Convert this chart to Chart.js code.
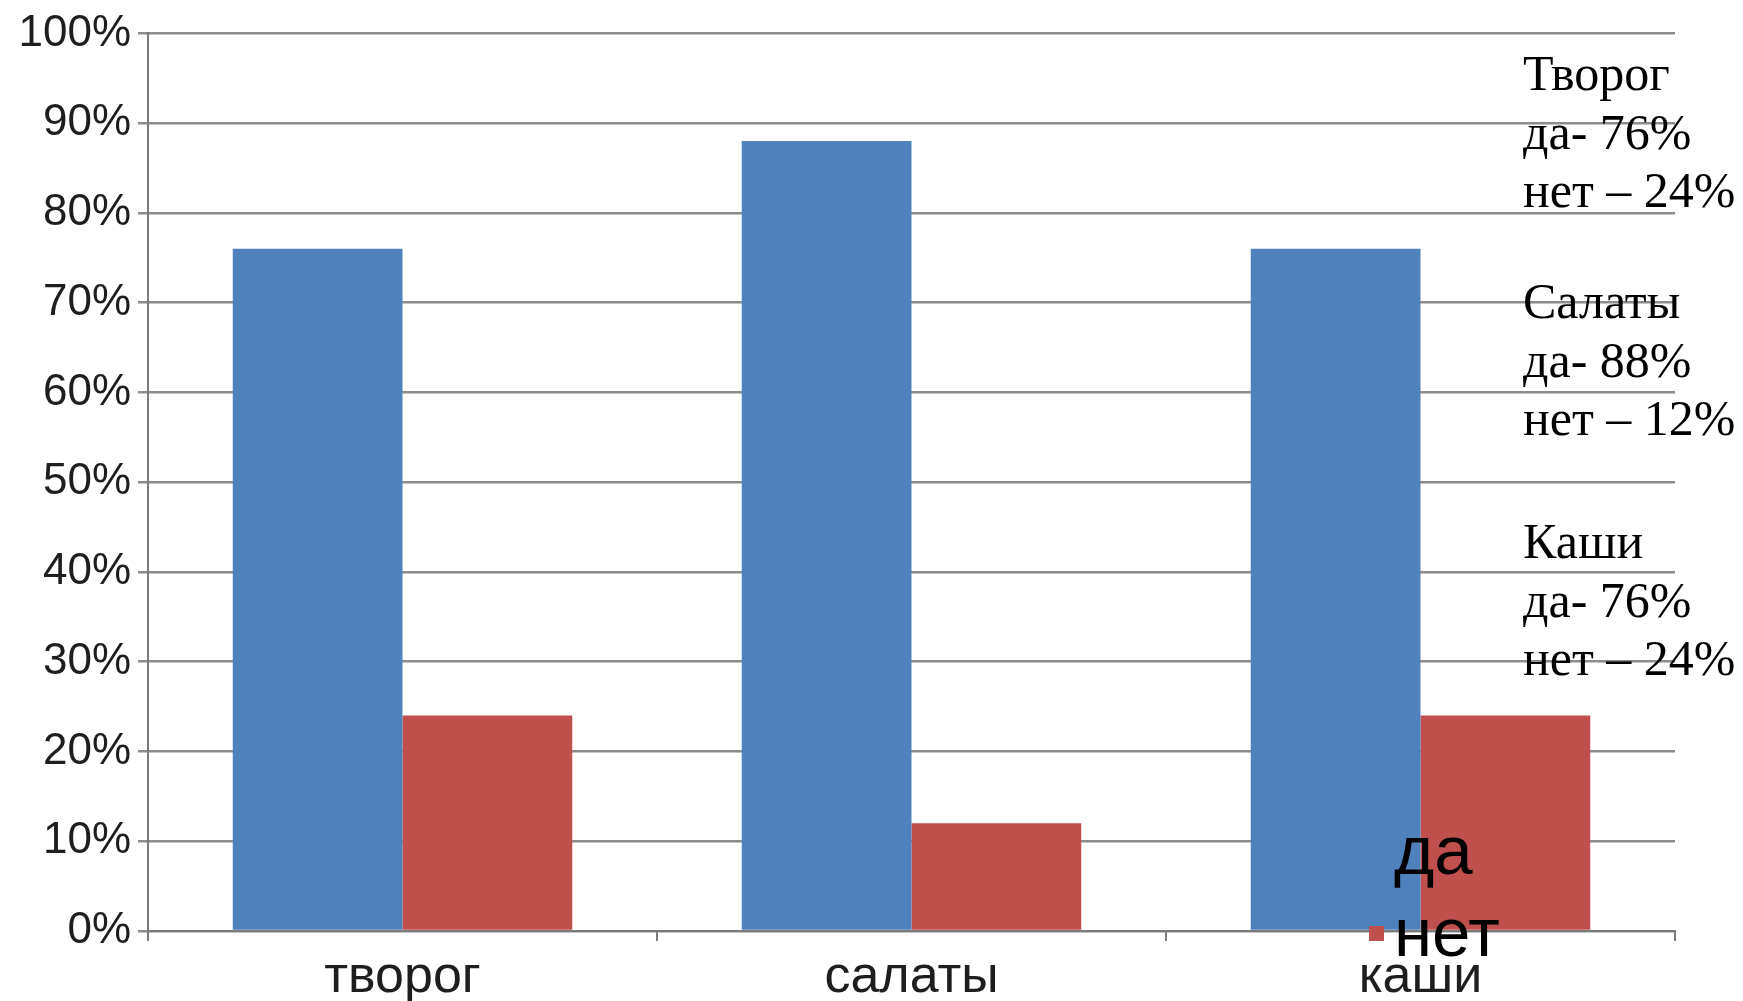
<!DOCTYPE html>
<html>
<head>
<meta charset="utf-8">
<script src="https://cdn.jsdelivr.net/npm/chart.js@4/dist/chart.umd.min.js"></script>
<style>
html,body{margin:0;padding:0;background:#ffffff;}
#wrap{position:relative;width:1743px;height:1001px;overflow:hidden;}
#c{position:absolute;left:0;top:0;}
.note{position:absolute;left:1523px;font-family:"Liberation Serif","Times New Roman",serif;font-size:50px;line-height:58.5px;color:#000;white-space:nowrap;}
</style>
</head>
<body>
<div id="wrap">
<canvas id="c" width="1743" height="1001"></canvas>
<div id="notes"></div>
</div>
<script>
// ---- data ----
const categories = ["творог", "салаты", "каши"];
const seriesNames = ["да", "нет"];
const yesValues = [76, 88, 76];
const noValues = [24, 12, 24];
const yTickLabels = ["0%","10%","20%","30%","40%","50%","60%","70%","80%","90%","100%"];
const noteTitles = ["Творог", "Салаты", "Каши"];

// ---- side notes (real text) ----
const noteTops = [44, 272, 512];
const notesEl = document.getElementById('notes');
noteTitles.forEach((t, i) => {
  const d = document.createElement('div');
  d.className = 'note';
  d.style.top = noteTops[i] + 'px';
  d.innerHTML = t + '<br>' + seriesNames[0] + '- ' + yesValues[i] + '%<br>' + seriesNames[1] + ' – ' + noValues[i] + '%';
  notesEl.appendChild(d);
});

// ---- custom legend drawn over the plot (bottom-right) ----
const cornerLegend = {
  id: 'cornerLegend',
  afterDatasetsDraw(chart, args, opts) {
    const ctx = chart.ctx;
    ctx.save();
    ctx.font = opts.size + 'px "Liberation Sans", Arial, sans-serif';
    ctx.textBaseline = 'alphabetic';
    ctx.textAlign = 'left';
    chart.data.datasets.forEach((ds, i) => {
      const base = opts.y + i * opts.spacing;
      ctx.fillStyle = ds.backgroundColor;
      ctx.fillRect(opts.x - opts.box - opts.gap, base - opts.boxOffset, opts.box, opts.box);
      ctx.fillStyle = '#000000';
      ctx.fillText(ds.label, opts.x, base);
    });
    ctx.restore();
  }
};

new Chart(document.getElementById('c'), {
  type: 'bar',
  data: {
    labels: categories,
    datasets: [
      { label: seriesNames[0], data: yesValues, backgroundColor: '#4F81BD', borderWidth: 0,
        categoryPercentage: 0.667, barPercentage: 1.0 },
      { label: seriesNames[1], data: noValues, backgroundColor: '#C0504D', borderWidth: 0,
        categoryPercentage: 0.667, barPercentage: 1.0 }
    ]
  },
  options: {
    responsive: false,
    devicePixelRatio: 1,
    animation: false,
    layout: { padding: { left: 0, right: 68, top: 32, bottom: 0 } },
    plugins: {
      legend: { display: false },
      tooltip: { enabled: false },
      cornerLegend: { x: 1394, y: 874, spacing: 82, size: 69, box: 15, gap: 10, boxOffset: 30 }
    },
    scales: {
      x: {
        offset: true,
        grid: { offset: true, drawOnChartArea: false, drawTicks: true, tickLength: 10, color: '#7a7a7a', lineWidth: 2 },
        border: { display: true, color: '#7a7a7a', width: 2 },
        ticks: { font: { family: '"Liberation Sans", Arial, sans-serif', size: 52 }, color: '#1e1e1e', padding: 5, maxRotation: 0, autoSkip: false },
        afterFit(s) { s.height = 70; }
      },
      y: {
        min: 0, max: 100,
        grid: { drawOnChartArea: true, drawTicks: true, tickLength: 10, color: '#8c8c8c', lineWidth: 2.5 },
        border: { display: true, color: '#7a7a7a', width: 2 },
        ticks: {
          stepSize: 10,
          padding: 7,
          color: '#1e1e1e',
          font: { family: '"Liberation Sans", Arial, sans-serif', size: 44 },
          callback: (v, i) => yTickLabels[i]
        },
        afterFit(s) { s.width = 148; }
      }
    }
  },
  plugins: [cornerLegend]
});
</script>
</body>
</html>
